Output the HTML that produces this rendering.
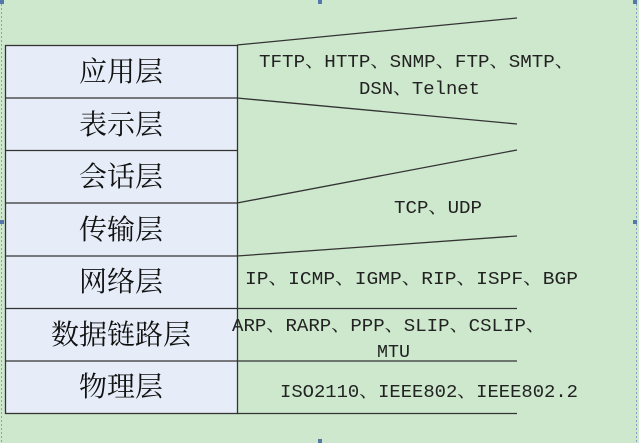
<!DOCTYPE html>
<html><head><meta charset="utf-8"><style>
html,body{margin:0;padding:0;width:639px;height:443px;overflow:hidden;background:#cde8cd}
svg{display:block}
.c{font-family:"Noto Serif CJK SC","Liberation Serif",serif;font-size:28px;fill:#111}
.t{font-family:"Liberation Mono","Noto Serif CJK SC",monospace;font-size:18px;fill:#222}
</style></head><body>
<svg width="639" height="443" xmlns="http://www.w3.org/2000/svg">
<rect x="0" y="0" width="639" height="443" fill="#cde8cd"/>
<line x1="1.5" y1="0" x2="1.5" y2="443" stroke="#8aa0c8" stroke-dasharray="2,2"/>
<line x1="636.5" y1="0" x2="636.5" y2="443" stroke="#8aa0c8" stroke-dasharray="2,2"/>
<rect x="0" y="0" width="4" height="4" fill="#5577aa"/>
<rect x="318" y="0" width="4" height="4" fill="#5577aa"/>
<rect x="633" y="0" width="4" height="4" fill="#5577aa"/>
<rect x="633" y="220" width="4" height="4" fill="#5577aa"/>
<rect x="0" y="220" width="4" height="4" fill="#5577aa"/>
<rect x="318" y="439" width="4" height="4" fill="#5577aa"/>
<rect x="5.5" y="45.5" width="232" height="368" fill="#e6edf8" stroke="#333" stroke-width="1.3"/>
<g stroke="#333" stroke-width="1.3">
<line x1="5" y1="98" x2="237" y2="98"/>
<line x1="5" y1="150.5" x2="237" y2="150.5"/>
<line x1="5" y1="203" x2="237" y2="203"/>
<line x1="5" y1="256" x2="237" y2="256"/>
<line x1="5" y1="308.5" x2="237" y2="308.5"/>
<line x1="5" y1="361" x2="237" y2="361"/>
<line x1="237" y1="45" x2="517" y2="18"/>
<line x1="237" y1="98" x2="517" y2="124"/>
<line x1="237" y1="203" x2="517" y2="150"/>
<line x1="237" y1="256" x2="517" y2="236"/>
<line x1="237" y1="308.5" x2="517" y2="308.5"/>
<line x1="237" y1="361" x2="517" y2="361"/>
<line x1="237" y1="413.5" x2="517" y2="413.5"/>
</g>
<g class="c" text-anchor="middle">
<text x="121" y="81">应用层</text>
<text x="121" y="134">表示层</text>
<text x="121" y="186">会话层</text>
<text x="121" y="239">传输层</text>
<text x="121" y="291">网络层</text>
<text x="121" y="344">数据链路层</text>
<text x="121" y="396">物理层</text>
</g>
<g class="t">
<text x="259" y="67" textLength="315" lengthAdjust="spacingAndGlyphs">TFTP、HTTP、SNMP、FTP、SMTP、</text>
<text x="359" y="94" textLength="121" lengthAdjust="spacingAndGlyphs">DSN、Telnet</text>
<text x="394" y="213" textLength="88" lengthAdjust="spacingAndGlyphs">TCP、UDP</text>
<text x="245" y="284" textLength="333" lengthAdjust="spacingAndGlyphs">IP、ICMP、IGMP、RIP、ISPF、BGP</text>
<text x="232" y="331" textLength="313" lengthAdjust="spacingAndGlyphs">ARP、RARP、PPP、SLIP、CSLIP、</text>
<text x="377" y="357" textLength="33" lengthAdjust="spacingAndGlyphs">MTU</text>
<text x="280" y="397" textLength="298" lengthAdjust="spacingAndGlyphs">ISO2110、IEEE802、IEEE802.2</text>
</g>
</svg>
</body></html>
